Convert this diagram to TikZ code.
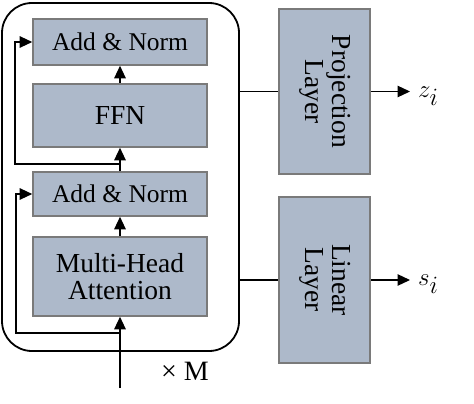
\documentclass[tikz,border=0pt]{standalone}
\usepackage{fontspec}
\setmainfont{Liberation Serif}
\usetikzlibrary{arrows.meta}
\definecolor{boxfill}{HTML}{ADB9CA}
\definecolor{boxline}{HTML}{7A7A7A}
\begin{document}
\begin{tikzpicture}[x=1pt,y=-1pt,
    layer/.style={draw=boxline,line width=1.6pt,fill=boxfill,inner sep=0pt,align=center,font=\fontsize{27.5}{30}\selectfont},
    arr/.style={-{Triangle[length=12.5pt,width=11.5pt]},line width=1.2pt}]
    \useasboundingbox (0,0) rectangle (474,404);
    \draw[line width=1.8pt,rounded corners=30pt] (2,3) rectangle (239,351);
    \coordinate (bR) at (239,0);
    \node[layer,minimum width=174,minimum height=46,font=\fontsize{25.5}{28}\selectfont] (an1) at (120,42) {Add \& Norm};
    \node[layer,minimum width=174,minimum height=63] (ffn) at (120,115.5) {FFN};
    \node[layer,minimum width=174,minimum height=44,font=\fontsize{25.5}{28}\selectfont] (an2) at (120,194) {Add \& Norm};
    \node[layer,minimum width=174,minimum height=79] (mha) at (120,276.5) {Multi-Head\\[-3pt]Attention};
    \node[layer,minimum width=91,minimum height=165] (proj) at (324.5,91.5) {\rotatebox{-90}{\begin{tabular}{@{}c@{}}Projection\\[-3pt]Layer\end{tabular}}};
    \node[layer,minimum width=91,minimum height=166] (lin) at (324.5,280) {\rotatebox{-90}{\begin{tabular}{@{}c@{}}Linear\\[-3pt]Layer\end{tabular}}};
    \coordinate (in) at (120,388);
    \coordinate (r1) at (120,164);
    \coordinate (r2) at (120,333);
    \draw[arr] (in) -- (mha.south);
    \draw[arr] (mha.north) -- (an2.south);
    \draw[arr] (an2.north) -- (ffn.south);
    \draw[arr] (ffn.north) -- (an1.south);
    \draw[arr] (r1) -- (15,164) |- (an1.west);
    \draw[arr] (r2) -- (16,333) |- (an2.west);
    \draw[line width=1.2pt] (bR |- proj.west) -- (proj.west);
    \draw[line width=1.2pt] (bR |- lin.west) -- (lin.west);
    \node[anchor=west,inner sep=1pt,font=\fontsize{34}{36}\selectfont] (zi) at (417,96) {$z_i$};
    \node[anchor=west,inner sep=1pt,font=\fontsize{34}{36}\selectfont] (si) at (417,284.5) {$s_i$};
    \draw[arr,shorten >=7pt] (proj.east) -- (proj.east -| zi.west);
    \draw[arr,shorten >=7pt] (lin.east) -- (lin.east -| si.west);
    \node[font=\fontsize{28}{30}\selectfont] (rep) at (185,371) {× M};
\end{tikzpicture}
\end{document}
